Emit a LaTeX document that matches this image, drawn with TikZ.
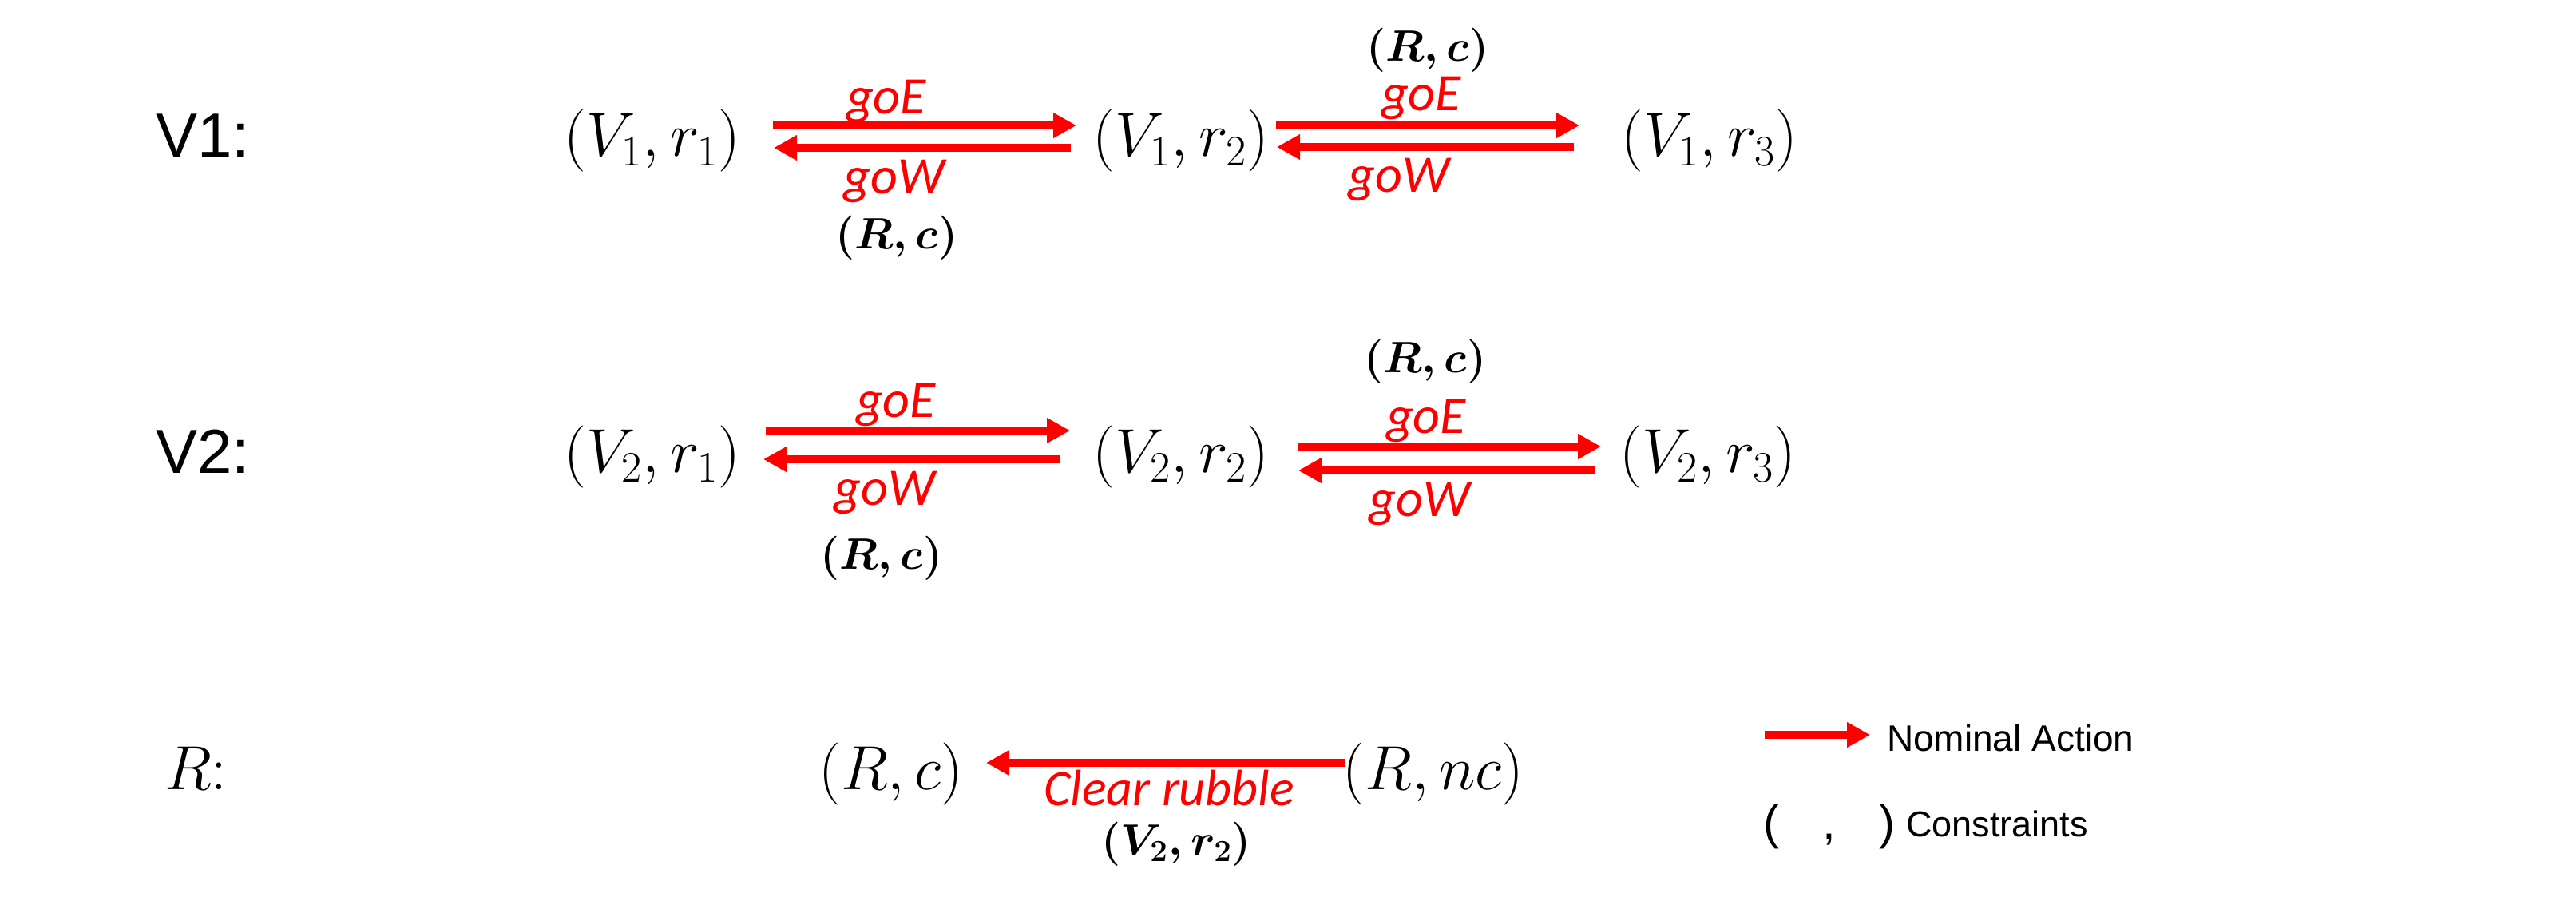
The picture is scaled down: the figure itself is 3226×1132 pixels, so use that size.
\RequirePackage{fix-cm}
\documentclass[tikz,border=0pt]{standalone}
\usepackage[no-math]{fontspec}
\newfontfamily\labsans{Liberation Sans}
\newfontfamily\calit{Carlito}
\usetikzlibrary{arrows.meta,calc}
\definecolor{actred}{RGB}{255,0,0}
\begin{document}
\begin{tikzpicture}[x=0.5pt,y=-0.5pt,inner sep=0pt,outer sep=0pt,
  st/.style={font=\fontsize{39}{40}\selectfont},
  con/.style={font=\fontsize{27.5}{30}\selectfont\boldmath,anchor=base},
  act/.style={draw=actred,line width=5pt,-{Triangle[length=14.5pt,width=15pt]}},
  alab/.style={text=actred,font=\calit\itshape\fontsize{33}{36}\selectfont,anchor=base},
  rowlab/.style={font=\labsans\fontsize{39}{40}\selectfont,anchor=base west},
  legtxt/.style={font=\labsans\fontsize{23}{26}\selectfont,anchor=base west}]
\useasboundingbox (0,0) rectangle (3226,1132);

% ---- row V1
\node[rowlab] (lv1) at (195,196) {V1:};
\node[st] (n11) at (817,176) {$(V_1,r_1)$};
\node[st] (n12) at (1479,176) {$(V_1,r_2)$};
\node[st] (n13) at (2141,176) {$(V_1,r_3)$};
\draw[act] ($(n11)+(151,-19)$) -- ($(n12)+(-131,-19)$);
\draw[act] ($(n12)+(-138,9)$) -- ($(n11)+(152,9)$);
\draw[act] ($(n12)+(119,-19)$) -- ($(n13)+(-163,-19)$);
\draw[act] ($(n13)+(-170,8)$) -- ($(n12)+(120,8)$);
\node[alab] (l11) at (1110,142) {goE};
\node[alab] (l12) at (1120,242) {goW};
\node[con] (c11) at (1123,311) {$(R,c)$};
\node[con] (c12) at (1788,76) {$(R,c)$};
\node[alab] (l13) at (1780,138) {goE};
\node[alab] (l14) at (1752,240) {goW};

% ---- row V2
\node[rowlab] (lv2) at (195,592) {V2:};
\node[st] (n21) at (817,572) {$(V_2,r_1)$};
\node[st] (n22) at (1479,572) {$(V_2,r_2)$};
\node[st] (n23) at (2139,572) {$(V_2,r_3)$};
\draw[act] ($(n21)+(142,-33)$) -- ($(n22)+(-139,-33)$);
\draw[act] ($(n22)+(-152,3)$) -- ($(n21)+(139,3)$);
\draw[act] ($(n22)+(146,-13)$) -- ($(n23)+(-134,-13)$);
\draw[act] ($(n23)+(-142,17)$) -- ($(n22)+(147,17)$);
\node[alab] (l21) at (1122,522) {goE};
\node[alab] (l22) at (1108,632) {goW};
\node[con] (c21) at (1104,712) {$(R,c)$};
\node[con] (c22) at (1785,466) {$(R,c)$};
\node[alab] (l23) at (1786,542) {goE};
\node[alab] (l24) at (1778,646) {goW};

% ---- row R
\node[st,anchor=base west] (lr) at (206,988) {$R$:};
\node[st] (rc) at (1116,969) {$(R,c)$};
\node[st] (rnc) at (1795,969) {$(R,nc)$};
\draw[act] ($(rnc)+(-110,-14)$) -- ($(rc)+(119,-14)$);
\node[alab,font=\calit\itshape\fontsize{32}{35}\selectfont] (lr1) at (1464,1008) {Clear rubble};
\node[con] (cr1) at (1473,1070) {$(V_2,r_2)$};

% ---- legend
\coordinate (lega) at (2210,920);
\coordinate (legb) at (2342,920);
\draw[act] (lega) -- (legb);
\node[legtxt] (legn) at (2363,940) {Nominal Action};
\node[font=\labsans\fontsize{30}{32}\selectfont,anchor=base] (legp) at (2291,1050) {(\hspace{0.9em},\hspace{0.9em})};
\node[legtxt,font=\labsans\fontsize{22.5}{25}\selectfont] (legc) at (2387,1047) {Constraints};
\end{tikzpicture}
\end{document}
